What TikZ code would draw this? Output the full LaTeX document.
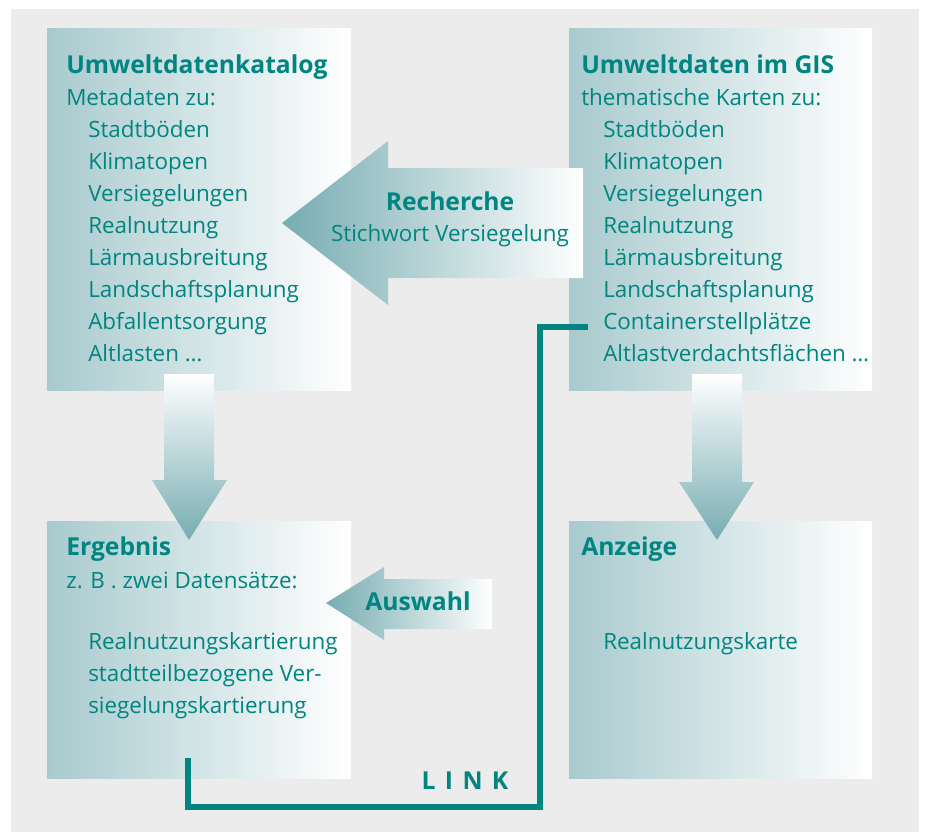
\documentclass[tikz,border=0pt]{standalone}
\usepackage{fontspec}
\setmainfont{Open Sans}
\usetikzlibrary{positioning}
\definecolor{gisTeal}{RGB}{0,133,128}
\definecolor{boxTeal}{RGB}{168,202,206}
\definecolor{arrowTeal}{RGB}{118,172,177}
\definecolor{paneGray}{RGB}{236,236,236}

\begin{document}
\begin{tikzpicture}[x=0.75pt, y=-0.75pt,
  box/.style={left color=boxTeal, right color=white},
  harrow/.style={left color=arrowTeal, right color=white},
  varrow/.style={top color=white, bottom color=arrowTeal},
  title/.style={anchor=base west, inner sep=0pt, text=gisTeal,
                font=\fontsize{18.5}{22}\selectfont\bfseries},
  entry/.style={anchor=base west, inner sep=0pt, text=gisTeal,
                font=\fontsize{16.8}{20}\selectfont},
  link/.style={draw=gisTeal, line width=4.5pt, line join=miter}]

  % ---- Background ----
  \useasboundingbox (0,0) rectangle (925,832);
  \fill[paneGray] (11,9) rectangle (919,832);

  % ---- Boxes ----
  \shade[box] (47,28)  rectangle (351,390);
  \shade[box] (569,28) rectangle (872,390);
  \shade[box] (47,521) rectangle (351,778);
  \shade[box] (569,521) rectangle (872,778);

  % ---- Block arrows ----
  \shade[harrow] (282,223) -- (388,141) -- (388,168) -- (583,168) -- (583,278)
                 -- (388,278) -- (388,305) -- cycle;
  \shade[harrow] (326,603) -- (384,567) -- (384,579) -- (492,579) -- (492,629)
                 -- (384,629) -- (384,640) -- cycle;
  \shade[varrow] (164,374) -- (214,374) -- (214,480) -- (227,480) -- (189,540)
                 -- (152,480) -- (164,480) -- cycle;
  \shade[varrow] (692,374) -- (742,374) -- (742,482) -- (754,482) -- (717,540)
                 -- (679,482) -- (692,482) -- cycle;

  % ---- Umweltdatenkatalog ----
  \node[title] (katalog) at (66,73)  {Umweltdatenkatalog};
  \node[entry] (metadaten) at (66,105) {Metadaten zu:};
  \foreach \txt [count=\i] in {Stadtböden, Klimatopen, Versiegelungen, Realnutzung,
      Lärmausbreitung, Landschaftsplanung, Abfallentsorgung, Altlasten …}
    \node[entry] (kat-\i) at (88,105+32*\i) {\txt};

  % ---- Umweltdaten im GIS ----
  \node[title] (gis) at (581,73)  {Umweltdaten im GIS};
  \node[entry] (karten) at (581,105) {thematische Karten zu:};
  \foreach \txt [count=\i] in {Stadtböden, Klimatopen, Versiegelungen, Realnutzung,
      Lärmausbreitung, Landschaftsplanung, Containerstellplätze, Altlastverdachtsflächen …}
    \node[entry] (gis-\i) at (603,105+32*\i) {\txt};

  % ---- Ergebnis ----
  \node[title] (ergebnis) at (66,555) {Ergebnis};
  \node[entry] (datensaetze) at (66,588) {z. B . zwei Datensätze:};
  \node[entry] (erg-1) at (88,649) {Realnutzungskartierung};
  \node[entry] (erg-2) at (88,681) {stadtteilbezogene Ver-};
  \node[entry] (erg-3) at (88,713) {siegelungskartierung};

  % ---- Anzeige ----
  \node[title] (anzeige) at (581,555) {Anzeige};
  \node[entry] (karte) at (603,649) {Realnutzungskarte};

  % ---- Arrow labels ----
  \node[title, anchor=base] (recherche) at (450,210) {Recherche};
  \node[entry, anchor=base] (stichwort) at (450,241) {Stichwort Versiegelung};
  \node[title, anchor=base] (auswahl) at (418,610) {Auswahl};

  % ---- Link ----
  \coordinate (link-a) at (188,758);
  \coordinate (link-b) at (588,327);
  \draw[link] (link-a) |- (540,807) |- (link-b);
  \node[title, anchor=base] (linklabel) at (465,789) {L\hspace{0.38em}I\hspace{0.38em}N\hspace{0.38em}K};

\end{tikzpicture}
\end{document}
